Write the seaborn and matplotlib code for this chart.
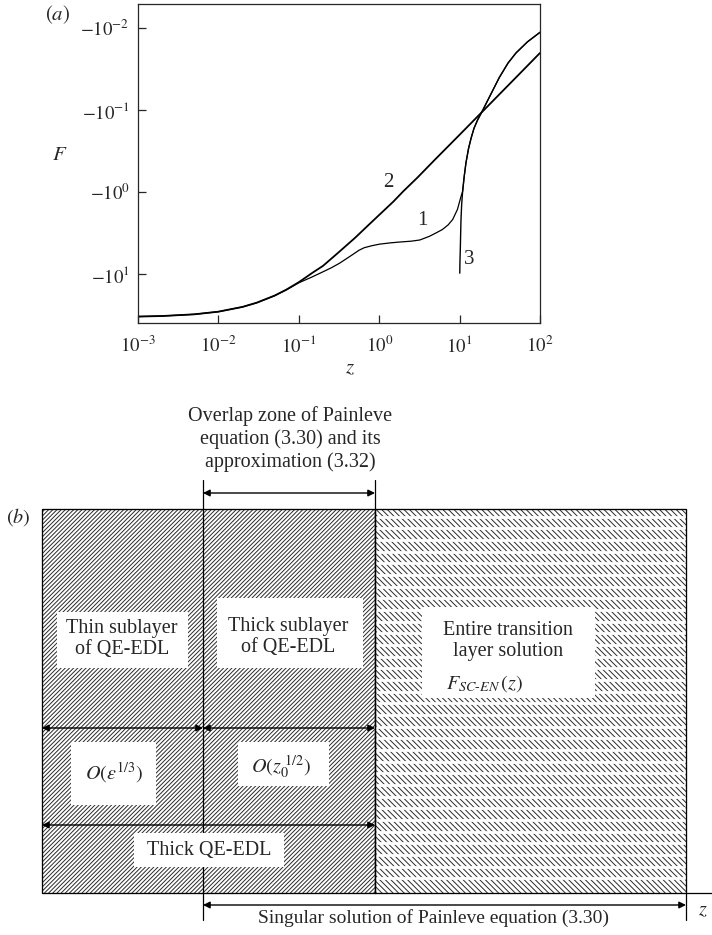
import numpy as np
import pandas as pd
import matplotlib
matplotlib.use("Agg")
import matplotlib.pyplot as plt
from matplotlib.patches import Rectangle
import seaborn as sns

# panel (a): values, F is negative
z_curve1 = [0.001, 0.002, 0.005, 0.01, 0.02, 0.03, 0.05, 0.07, 0.1, 0.14, 0.18, 0.25,
            0.32, 0.45, 0.56, 0.65, 0.8, 1.0, 1.35, 1.77, 2.5, 3.2, 4.2, 5.2, 6.1, 7.2,
            8.2, 9.4, 10.4, 10.9, 11.4, 12.0, 12.9, 13.9, 15.1, 16.7, 19.5, 24, 31.2,
            40, 50.4, 70, 100]
F_curve1 = [-32.8, -32.3, -30.8, -28.6, -25.0, -22.3, -18.3, -15.5, -12.7, -11.0, -9.8,
            -8.4, -7.35, -5.9, -5.1, -4.75, -4.5, -4.3, -4.15, -4.05, -3.95, -3.82,
            -3.45, -3.1, -2.85, -2.5, -2.15, -1.62, -1.13, -0.98, -0.646, -0.437, -0.295,
            -0.219, -0.166, -0.132, -0.0989, -0.0661, -0.0398, -0.0266, -0.01995,
            -0.01462, -0.0112]

z_curve2 = [0.001, 0.002, 0.005, 0.01, 0.02, 0.03, 0.05, 0.07, 0.1, 0.15, 0.2, 0.3,
            0.5, 0.7, 1.0, 1.5, 2.0, 3.0, 5.0, 10, 20, 50, 100]
F_curve2 = [-32.8, -32.3, -30.8, -28.6, -25.0, -22.2, -18.2, -15.4, -12.5, -9.5, -7.9,
            -5.6, -3.6, -2.63, -1.89, -1.30, -0.97, -0.66, -0.395, -0.199, -0.0998,
            -0.040, -0.020]

z_curve3 = [10.05, 10.1, 10.2, 10.3, 10.4, 10.6, 10.9, 11.4, 12.0, 12.9, 13.9, 15.1,
            16.7, 19.5, 24, 31.2, 40, 50.4, 70, 100]
F_curve3 = [-9.7, -7.0, -5.0, -3.3, -2.2, -1.43, -0.98, -0.646, -0.437, -0.295, -0.219,
            -0.166, -0.132, -0.0989, -0.0661, -0.0398, -0.0266, -0.01995, -0.01462,
            -0.0112]

x_ticks = [1e-3, 1e-2, 1e-1, 1e0, 1e1, 1e2]
x_tick_labels = [r"$10^{-3}$", r"$10^{-2}$", r"$10^{-1}$", r"$10^{0}$", r"$10^{1}$", r"$10^{2}$"]
y_ticks = [1e-2, 1e-1, 1e0, 1e1]
y_tick_labels = [r"$-10^{-2}$", r"$-10^{-1}$", r"$-10^{0}$", r"$-10^{1}$"]

sns.set_style("ticks")
plt.rcParams["font.family"] = ["Liberation Serif", "DejaVu Serif"]
plt.rcParams["mathtext.fontset"] = "stix"
plt.rcParams["hatch.linewidth"] = 0.7

W, H = 712, 935
fig = plt.figure(figsize=(W / 100, H / 100), dpi=100)

# ---------------- panel (a) ----------------
ax = fig.add_axes([138 / W, 1 - 323 / H, (540 - 138) / W, (323 - 4) / H])
ax.set_xscale("log")
ax.set_yscale("log")

curves = [
    (z_curve2, F_curve2, 1.3),
    (z_curve1, F_curve1, 0.9),
    (z_curve3, F_curve3, 1.0),
]
for z, F, lw in curves:
    df = pd.DataFrame({"z": z, "minusF": -np.asarray(F)})
    sns.lineplot(data=df, x="z", y="minusF", ax=ax, color="black", lw=lw,
                 sort=False, estimator=None)

ax.set_xlim(1e-3, 1e2)
ax.set_ylim(39.3, 0.00506)
ax.set_xticks(x_ticks)
ax.set_xticklabels(x_tick_labels)
ax.set_yticks(y_ticks)
ax.set_yticklabels(y_tick_labels)
ax.minorticks_off()
ax.tick_params(direction="in", length=6, width=0.9, labelsize=13.5)
ax.tick_params(axis="x", pad=9)
ax.tick_params(axis="y", pad=6)
for s in ax.spines.values():
    s.set_linewidth(0.9)

ax.set_xlabel(r"$z$", fontsize=15)
ax.xaxis.set_label_coords(0.527, -0.115)
ax.set_ylabel(r"$F$", fontsize=15, rotation=0)
ax.yaxis.set_label_coords(-0.194, 0.495)

ax.text(1.29, 0.77, "2", fontsize=15, ha="center", va="center")
ax.text(3.43, 2.18, "1", fontsize=15, ha="center", va="center")
ax.text(13.3, 6.7, "3", fontsize=15, ha="center", va="center")
fig.text(58 / W, 1 - 15 / H, r"$(a)$", fontsize=15, ha="center", va="center")

# ---------------- panel (b): schematic in pixel coordinates ----------------
ax2 = fig.add_axes([0, 0, 1, (H - 370) / H])
ax2.set_xlim(0, W)
ax2.set_ylim(H, 370)
ax2.axis("off")

left, mid, split, right = 42, 203, 375, 686
top, bottom = 509, 893

ax2.add_patch(Rectangle((left, top), split - left, bottom - top, facecolor="white",
                        edgecolor="#2a2a2a", hatch="////////", lw=0.9))
ax2.add_patch(Rectangle((split, top), right - split, bottom - top, facecolor="white",
                        edgecolor="#2a2a2a", hatch="\\" * 6, lw=0.9))
# white gaps between the rows of back-slashes
ax2.hlines(np.arange(516.7, bottom - 3, 11.67), split + 1, right - 1, color="white", lw=2.0)
ax2.plot([split, split], [top, bottom], color="black", lw=1.0)
ax2.plot([left, right, right, left, left], [top, top, bottom, bottom, top], color="black", lw=0.8)

# guide lines
ax2.plot([mid, mid], [480, 920], color="black", lw=0.9)
ax2.plot([split, split], [480, top], color="black", lw=0.9)
ax2.plot([right, W], [bottom, bottom], color="black", lw=0.9)
ax2.plot([right, right], [bottom, 920], color="black", lw=0.9)

arrow = dict(arrowstyle="<|-|>", color="black", lw=1.0, mutation_scale=10,
             shrinkA=0, shrinkB=0)
for x0, x1, y in [(mid, split, 493), (left, mid, 728), (mid, split, 728),
                  (left, split, 825), (mid, right, 905)]:
    ax2.annotate("", xy=(x1, y), xytext=(x0, y), arrowprops=arrow)

# white label boxes
boxes = [(57, 612, 188, 668), (217, 598, 363, 668), (422, 607, 595, 698),
         (71, 742, 156, 805), (238, 742, 329, 786), (134, 833, 284, 867)]
for x0, y0, x1, y1 in boxes:
    ax2.add_patch(Rectangle((x0, y0), x1 - x0, y1 - y0, facecolor="white",
                            edgecolor="none", zorder=3))

fs = 14.5
txt = dict(fontsize=fs, ha="center", va="center", zorder=4, linespacing=1.2)
ax2.text(290, 439, "Overlap zone of Painleve\nequation (3.30) and its\napproximation (3.32)", **txt)
ax2.text(122, 639, "Thin sublayer\nof QE-EDL", **txt)
ax2.text(288, 637, "Thick sublayer\nof QE-EDL", **txt)
ax2.text(508, 641, "Entire transition\nlayer solution", **txt)
ax2.text(485, 684, r"$F_{SC\text{-}EN}\,(z)$", **txt)
ax2.text(114, 773, r"$O\left(\varepsilon^{1/3}\right)$", **txt)
ax2.text(281, 767, r"$O(z_0^{\ 1/2})$", **txt)
ax2.text(209, 850, "Thick QE-EDL", **txt)
ax2.text(433, 918, "Singular solution of Painleve equation (3.30)",
         **{**txt, "fontsize": 14})
ax2.text(703, 911, r"$z$", fontsize=fs, ha="center", va="center")
ax2.text(18, 517, r"$(b)$", fontsize=fs, ha="center", va="center")

fig.savefig("out.png", dpi=100)
